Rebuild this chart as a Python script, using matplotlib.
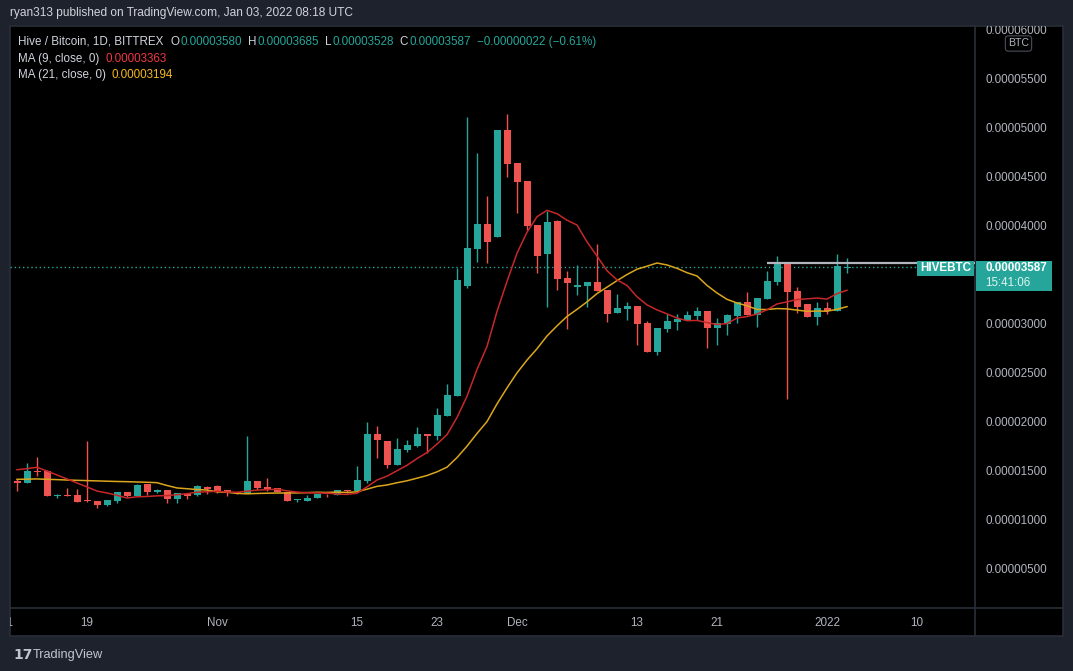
import numpy as np
import pandas as pd
import matplotlib
matplotlib.use("Agg")
import matplotlib.pyplot as plt
import matplotlib.dates as mdates
from matplotlib.patches import Rectangle
from matplotlib.lines import Line2D
from matplotlib.transforms import blended_transform_factory, IdentityTransform

# ---------------- data (prices in satoshi, 1 sat = 1e-8 BTC) ----------------
SAT = 1e-8
dates = pd.date_range("2021-10-12", "2022-01-03", freq="D")

opens = [1408, 1391, 1510, 1510, 1258, 1265, 1265, 1214, 1204, 1163,
         1204, 1296, 1255, 1381, 1299, 1316, 1224, 1279, 1265, 1334,
         1357, 1316, 1299, 1283, 1408, 1350, 1334, 1293, 1211, 1204,
         1238, 1279, 1265, 1316, 1306, 1411, 1888, 1813, 1574, 1728,
         1768, 1888, 1870, 2074, 2279, 3401, 3775, 4031, 3901, 4990,
         4650, 4469, 4020, 3728, 4061, 3480, 3391, 3401, 3439, 3357,
         3126, 3166, 3194, 3020, 2728, 2962, 3034, 3051, 3092, 3143,
         2972, 3013, 3092, 3235, 3102, 3265, 3439, 3636, 3347, 3214,
         3082, 3173, 3146, 3580]
highs = [1425, 1595, 1656, 1520, 1276, 1334, 1327, 1816, 1204, 1214,
         1296, 1296, 1374, 1381, 1327, 1316, 1283, 1279, 1367, 1357,
         1367, 1316, 1299, 1867, 1408, 1442, 1334, 1293, 1228, 1265,
         1276, 1279, 1316, 1316, 1564, 2010, 1969, 1813, 1847, 1827,
         1959, 1888, 2153, 2398, 3579, 5119, 4752, 4313, 4990, 5153,
         4650, 4469, 4020, 4163, 4071, 3551, 3612, 3439, 3827, 3357,
         3316, 3235, 3194, 3041, 2969, 3112, 3112, 3146, 3181, 3143,
         3071, 3112, 3235, 3337, 3275, 3551, 3704, 3636, 3388, 3214,
         3235, 3235, 3724, 3685]
lows = [1309, 1388, 1462, 1258, 1238, 1252, 1197, 1191, 1136, 1156,
        1187, 1242, 1255, 1262, 1283, 1184, 1184, 1228, 1255, 1279,
        1283, 1255, 1272, 1283, 1316, 1306, 1299, 1204, 1191, 1204,
        1238, 1248, 1265, 1283, 1306, 1391, 1640, 1538, 1574, 1707,
        1758, 1691, 1830, 2074, 2279, 3381, 3646, 3636, 3901, 4513,
        4146, 3969, 3534, 3187, 3357, 2962, 3306, 3187, 3347, 3034,
        3126, 3051, 2796, 2728, 2697, 2932, 2949, 3051, 3051, 2768,
        2796, 2898, 3017, 3102, 2983, 3265, 3411, 2248, 3126, 3082,
        3000, 3112, 3146, 3528]
closes = [1391, 1510, 1503, 1258, 1265, 1258, 1197, 1204, 1163, 1214,
          1296, 1255, 1367, 1296, 1316, 1224, 1283, 1255, 1357, 1330,
          1299, 1293, 1283, 1408, 1334, 1316, 1299, 1204, 1217, 1238,
          1276, 1272, 1316, 1306, 1418, 1888, 1830, 1574, 1735, 1776,
          1888, 1870, 2082, 2286, 3459, 3783, 4031, 3850, 4990, 4646,
          4462, 4013, 3707, 4051, 3472, 3432, 3408, 3439, 3347, 3115,
          3173, 3194, 3013, 2728, 2969, 3041, 3058, 3102, 3143, 2972,
          3017, 3102, 3235, 3102, 3275, 3449, 3636, 3337, 3184, 3082,
          3173, 3143, 3602, 3587]
# moving-average values at the left edge (they depend on bars before the window)
ma9_head = [1523, 1534, 1548, 1510, 1469, 1429, 1388, 1347]
ma21_head = [1425, 1427, 1429, 1425, 1422, 1418, 1415, 1412, 1409, 1406,
             1403, 1401, 1398, 1395, 1391, 1362, 1337, 1329, 1321, 1316]
# values shown in the legend
ma9_last = 0.00003363
ma21_last = 0.00003194
change_text = "\u22120.00000022 (\u22120.61%)"

price_ticks = [0.000005, 0.00001, 0.000015, 0.00002, 0.000025, 0.00003,
               0.00004, 0.000045, 0.00005, 0.000055, 0.00006]
time_tick_dates = ["2021-10-11", "2021-10-19", "2021-11-01", "2021-11-15", "2021-11-23",
                   "2021-12-01", "2021-12-13", "2021-12-21", "2022-01-01", "2022-01-10"]
time_tick_labels = ["11", "19", "Nov", "15", "23", "Dec", "13", "21", "2022", "10"]

ray_level = 0.00003636
ray_start = "2021-12-26"

# ---------------- style ----------------
W, H = 1073, 671
BG = "#1e222d"
BORDER = "#2a2e39"
TXT = "#b2b5be"
TXT2 = "#d1d4dc"
UP = "#26a69a"
DN = "#ef5350"
MA9C = "#c62828"
MA21C = "#dba61c"
MA9V = "#f23645"
MA21V = "#f5b81c"
FONT = ["Liberation Sans", "DejaVu Sans"]
plt.rcParams["font.family"] = FONT

fig = plt.figure(figsize=(W / 100, H / 100), dpi=100, facecolor=BG)


def fx(px):
    return px / W


def fy(py):
    return 1 - py / H


# black panel (behind the axes)
fig.patches.append(Rectangle((fx(10), fy(636)), (1063 - 10) / W, (636 - 26) / H,
                             transform=fig.transFigure, facecolor="black",
                             edgecolor=BORDER, lw=1.2, zorder=-5))
fig.lines.append(Line2D([fx(975), fx(975)], [fy(26), fy(636)], transform=fig.transFigure,
                        color=BORDER, lw=1.2, zorder=-4))
fig.lines.append(Line2D([fx(10), fx(1063)], [fy(608), fy(608)], transform=fig.transFigure,
                        color=BORDER, lw=1.2, zorder=-4))

ax = fig.add_axes([fx(10), fy(608), (975 - 10) / W, (608 - 26) / H])
axp = fig.add_axes([fx(975), fy(608), (1063 - 975) / W, (608 - 26) / H])
axt = fig.add_axes([fx(10), fy(636), (975 - 10) / W, (636 - 608) / H])
for a in (ax, axp, axt):
    a.set_axis_off()

x = mdates.date2num(dates)
o = np.array(opens) * SAT
h = np.array(highs) * SAT
l = np.array(lows) * SAT
c = np.array(closes) * SAT

ylim = (112 * SAT, 6051 * SAT)
xlim = (x[0] - 0.7, x[0] + 95.8)
for a in (ax, axp):
    a.set_ylim(ylim)
for a in (ax, axt):
    a.set_xlim(xlim)
axp.set_xlim(0, 1)
axt.set_ylim(0, 1)

# current price dotted line
ax.axhline(c[-1], color=UP, lw=1, ls=(0, (1, 2)), zorder=1)

# candles
up = c >= o
cols = np.where(up, UP, DN)
ax.vlines(x, l, h, colors=cols, lw=1, zorder=2)
body_bottom = np.minimum(o, c)
body_h = np.maximum(np.abs(c - o), 12 * SAT)
ax.bar(x, body_h, bottom=body_bottom, width=0.7, color=cols, lw=0, zorder=3)

# moving averages
cs = pd.Series(closes, dtype=float)
ma9 = cs.rolling(9).mean().to_numpy()
ma9[:len(ma9_head)] = ma9_head
ma21 = cs.rolling(21).mean().to_numpy()
ma21[:len(ma21_head)] = ma21_head
ax.plot(x, ma21 * SAT, color=MA21C, lw=1.1, zorder=4)
ax.plot(x, ma9 * SAT, color=MA9C, lw=1.1, zorder=5)

# horizontal ray drawing
ax.hlines(ray_level, mdates.date2num(pd.Timestamp(ray_start)), xlim[1],
          color="#b2b5be", lw=1.6, zorder=6)

# price axis labels
tp = blended_transform_factory(axp.transAxes, axp.transData)
for v in price_ticks:
    axp.text(0.114, v, f"{v:.8f}", transform=tp, color=TXT, fontsize=8.4,
             va="center", ha="left", clip_on=True)

# time axis labels
tt = blended_transform_factory(axt.transData, axt.transAxes)
for d, lab in zip(time_tick_dates, time_tick_labels):
    axt.text(mdates.date2num(pd.Timestamp(d)), 0.46, lab, transform=tt, color=TXT,
             fontsize=8.4, va="center", ha="center", clip_on=True)

# last price labels (pixel placement from data transform)
fig.canvas.draw()
ypx = ax.transData.transform((x[0], c[-1]))[1]  # display coords (origin bottom)
ident = IdentityTransform()
fig.patches.append(Rectangle((917, ypx - 8.5), 57, 15, transform=ident,
                             facecolor=UP, edgecolor="none", zorder=10))
fig.text(945.5, ypx - 1, "HIVEBTC", transform=ident, color="white", fontsize=8.4,
         fontweight="bold", ha="center", va="center", zorder=11)
fig.patches.append(Rectangle((976, ypx - 23.5), 76, 30, transform=ident,
                             facecolor=UP, edgecolor="none", zorder=10))
fig.text(985, ypx - 1, f"{c[-1]:.8f}", transform=ident, color="white", fontsize=8.4,
         fontweight="bold", ha="left", va="center", zorder=11)
fig.text(985, ypx - 16, "15:41:06", transform=ident, color="#dff3f1", fontsize=8.4,
         ha="left", va="center", zorder=11)

# BTC unit badge
fig.text(fx(1018.5), fy(43.5), "BTC", color=TXT, fontsize=7.6, ha="center", va="center",
         bbox=dict(boxstyle="round,pad=0.25,rounding_size=0.3", facecolor="black",
                   edgecolor="#4a4e5a", lw=0.8), zorder=12)

# header / legend text
renderer = fig.canvas.get_renderer()


def seq_text(x_px, y_px, parts, size=8.4):
    xx = x_px
    for s, col, gap in parts:
        t = fig.text(fx(xx), fy(y_px), s, color=col, fontsize=size, ha="left", va="center")
        bb = t.get_window_extent(renderer=renderer)
        xx += bb.width + gap


fig.text(fx(10), fy(13), "ryan313 published on TradingView.com, Jan 03, 2022 08:18 UTC",
         color=TXT2, fontsize=8.6, ha="left", va="center")

seq_text(18, 42, [
    ("Hive / Bitcoin, 1D, BITTREX", TXT2, 7),
    ("O", TXT2, 1), (f"{opens[-1] * SAT:.8f}", UP, 6),
    ("H", TXT2, 1), (f"{highs[-1] * SAT:.8f}", UP, 6),
    ("L", TXT2, 1), (f"{lows[-1] * SAT:.8f}", UP, 6),
    ("C", TXT2, 1), (f"{closes[-1] * SAT:.8f}", UP, 6),
    (change_text, UP, 0),
])
seq_text(18, 59, [("MA (9, close, 0)", TXT2, 6), (f"{ma9_last:.8f}", MA9V, 0)])
seq_text(18, 75, [("MA (21, close, 0)", TXT2, 6), (f"{ma21_last:.8f}", MA21V, 0)])

# TradingView footer
fig.text(fx(13), fy(655), "17", color="#c3c6ce", fontsize=10, fontweight="bold",
         ha="left", va="center", family=["DejaVu Sans"])
fig.text(fx(33), fy(655), "TradingView", color="#c3c6ce", fontsize=9.2, ha="left", va="center")

fig.savefig("out.png", dpi=100, facecolor=BG)
